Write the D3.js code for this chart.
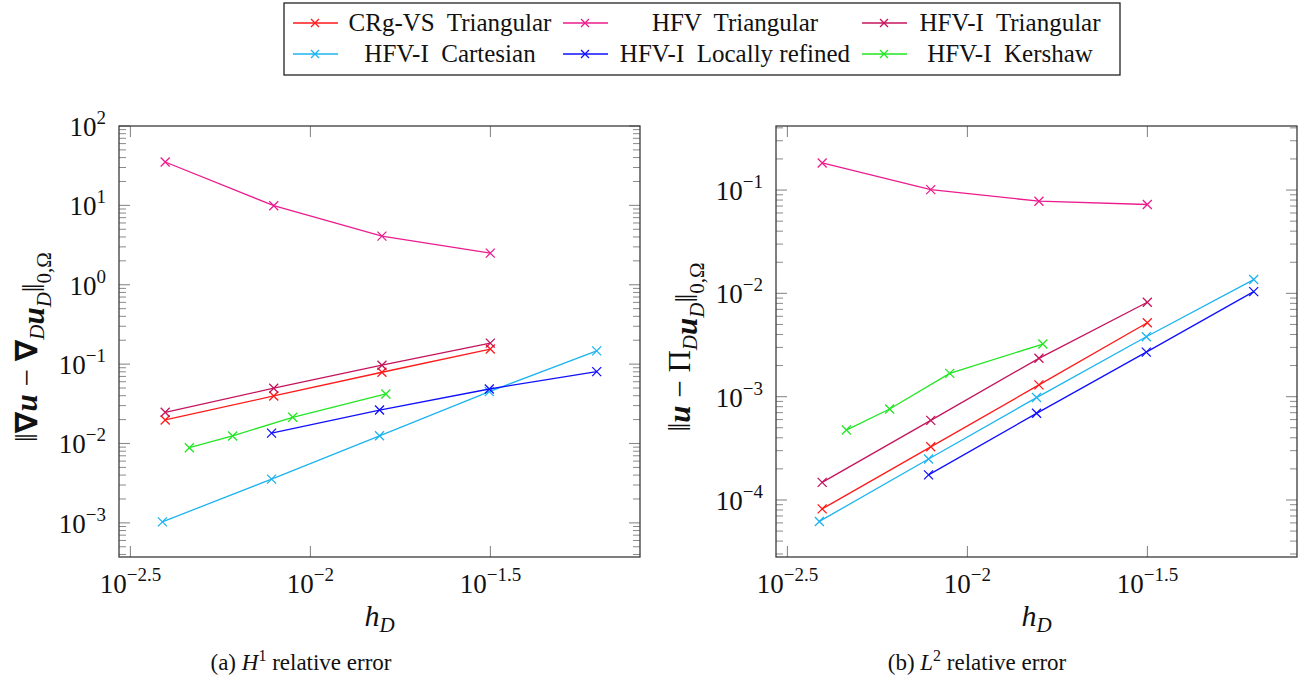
<!doctype html>
<html>
<head>
<meta charset="utf-8">
<script src="https://d3js.org/d3.v7.min.js"></script>
<style>
  body { margin: 0; background: #fff; }
  svg text { font-family: "Liberation Serif", "DejaVu Serif", serif; fill: #111; }
</style>
</head>
<body>
<svg width="1299" height="684" font-family="Liberation Serif, DejaVu Serif, serif"></svg>
<script>
// mesh sizes
var hTri  = [0.00395, 0.00791, 0.0158, 0.0316];
var hCart = [0.00388, 0.0078, 0.01556, 0.0314, 0.0624];
var hLoc  = [0.0078, 0.01556, 0.0314, 0.0624];
var hKer  = [0.00461, 0.00608, 0.00893, 0.0162];

// H1 relative errors
var crgH1     = [0.0198, 0.0397, 0.079, 0.155];
var hfvH1     = [35.2, 9.9, 4.1, 2.5];
var hfviTriH1 = [0.0247, 0.0497, 0.097, 0.184];
var cartH1    = [0.00103, 0.00356, 0.0125, 0.045, 0.147];
var locH1     = [0.0135, 0.0264, 0.0486, 0.0805];
var kerH1     = [0.00885, 0.01245, 0.0214, 0.0421];

// L2 relative errors
var crgL2     = [8.2e-5, 3.27e-4, 1.3e-3, 5.2e-3];
var hfvL2     = [0.183, 0.101, 0.078, 0.0725];
var hfviTriL2 = [1.48e-4, 5.9e-4, 2.35e-3, 8.2e-3];
var cartL2    = [6.2e-5, 2.49e-4, 9.8e-4, 3.8e-3, 0.0136];
var locL2     = [1.75e-4, 6.9e-4, 2.7e-3, 0.0104];
var kerL2     = [4.75e-4, 7.6e-4, 1.68e-3, 3.23e-3];

var names = ["CRg-VS  Triangular", "HFV  Triangular", "HFV-I  Triangular",
             "HFV-I  Cartesian", "HFV-I  Locally refined", "HFV-I  Kershaw"];
var colors = ["#ff1a1a", "#ec1c8e", "#c4145c", "#1cb4f0", "#1010ff", "#22e622"];

var xTickExp = [-2.5, -2, -1.5];
var xTickLabels = ["\u22122.5", "\u22122", "\u22121.5"];
var yTickExpA = [-3, -2, -1, 0, 1, 2];
var yTickLabelsA = ["\u22123", "\u22122", "\u22121", "0", "1", "2"];
var yTickExpB = [-4, -3, -2, -1];
var yTickLabelsB = ["\u22124", "\u22123", "\u22122", "\u22121"];

var SERIF = "'Liberation Serif', 'DejaVu Serif', serif";
var svg = d3.select("svg");

function txt(sel) {
  return sel.append("text").style("font-family", SERIF).attr("fill", "#111");
}

function panel(opt) {
  var x = d3.scaleLog().domain([Math.pow(10, -2.5317), Math.pow(10, -1.0845)]).range([opt.left, opt.right]);
  var y = d3.scaleLog().domain(opt.ydom).range([557, 126]);
  var g = svg.append("g");

  // minor y ticks (both sides)
  var minors = [];
  for (var e = Math.floor(Math.log10(opt.ydom[0])); e <= Math.ceil(Math.log10(opt.ydom[1])); e++) {
    for (var m = 2; m <= 9; m++) {
      var v = m * Math.pow(10, e);
      if (v > opt.ydom[0] && v < opt.ydom[1]) minors.push(v);
    }
  }
  minors.forEach(function(v) {
    g.append("line").attr("x1", opt.left).attr("x2", opt.left + 7).attr("y1", y(v)).attr("y2", y(v))
      .attr("stroke", "#8a8a8a").attr("stroke-width", 1);
    g.append("line").attr("x1", opt.right).attr("x2", opt.right - 7).attr("y1", y(v)).attr("y2", y(v))
      .attr("stroke", "#8a8a8a").attr("stroke-width", 1);
  });
  // major y ticks
  opt.yExp.forEach(function(ex, i) {
    var yy = y(Math.pow(10, ex));
    g.append("line").attr("x1", opt.left).attr("x2", opt.left + 11).attr("y1", yy).attr("y2", yy)
      .attr("stroke", "#8a8a8a").attr("stroke-width", 1.1);
    g.append("line").attr("x1", opt.right).attr("x2", opt.right - 11).attr("y1", yy).attr("y2", yy)
      .attr("stroke", "#8a8a8a").attr("stroke-width", 1.1);
    var t = txt(g).attr("x", opt.left - 13).attr("y", yy + 10).attr("text-anchor", "end")
      .style("font-size", "27px");
    t.append("tspan").text("10");
    t.append("tspan").attr("dy", -12).style("font-size", "19px").text(opt.yLab[i]);
  });
  // major x ticks (bottom and top)
  xTickExp.forEach(function(ex, i) {
    var xx = x(Math.pow(10, ex));
    g.append("line").attr("x1", xx).attr("x2", xx).attr("y1", 557).attr("y2", 546)
      .attr("stroke", "#8a8a8a").attr("stroke-width", 1.1);
    g.append("line").attr("x1", xx).attr("x2", xx).attr("y1", 126).attr("y2", 137)
      .attr("stroke", "#8a8a8a").attr("stroke-width", 1.1);
    var t = txt(g).attr("x", xx).attr("y", 593).attr("text-anchor", "middle")
      .style("font-size", "27px");
    t.append("tspan").text("10");
    t.append("tspan").attr("dy", -12).style("font-size", "19px").text(xTickLabels[i]);
  });

  // frame
  g.append("rect").attr("x", opt.left).attr("y", 126).attr("width", opt.right - opt.left).attr("height", 431)
    .attr("fill", "none").attr("stroke", "#3a3a3a").attr("stroke-width", 1.3);

  var line = d3.line().x(function(d) { return x(d[0]); }).y(function(d) { return y(d[1]); });
  opt.series.forEach(function(s) {
    var pts = s.h.map(function(h, i) { return [h, s.v[i]]; });
    g.append("path").datum(pts).attr("d", line).attr("fill", "none")
      .attr("stroke", s.c).attr("stroke-width", 1.3);
    pts.forEach(function(p) {
      var px = x(p[0]), py = y(p[1]), r = 4.5;
      g.append("path").attr("d", "M" + (px - r) + "," + (py - r) + "L" + (px + r) + "," + (py + r) +
        "M" + (px - r) + "," + (py + r) + "L" + (px + r) + "," + (py - r))
        .attr("stroke", s.c).attr("stroke-width", 1.3).attr("fill", "none");
    });
  });

  // x label
  var xl = txt(g).attr("x", (opt.left + opt.right) / 2).attr("y", 626).attr("text-anchor", "middle")
    .style("font-size", "30px").style("font-style", "italic");
  xl.append("tspan").text("h");
  xl.append("tspan").attr("dy", 6).style("font-size", "21px").text("D");

  // y label
  var yl = txt(g).attr("transform", "translate(" + opt.ylx + ",347) rotate(-90)")
    .attr("text-anchor", "middle").style("font-size", "31px");
  opt.ylabel(yl);

  // caption
  var cap = txt(svg).attr("x", opt.capx).attr("y", 670).attr("text-anchor", "middle")
    .style("font-size", "23px");
  cap.append("tspan").text("(" + opt.tag + ") ");
  cap.append("tspan").style("font-style", "italic").text(opt.capVar);
  cap.append("tspan").attr("dy", -9).style("font-size", "16px").text(opt.capExp);
  cap.append("tspan").attr("dy", 9).text(" relative error");
}

function sub(t, s) {
  t.append("tspan").attr("dy", 7).style("font-size", "21px").style("font-style", "italic").text(s);
}
function bu(t) {
  t.append("tspan").style("font-weight", "bold").style("font-style", "italic").text("u");
}
function nabla(t) {
  t.append("tspan").style("font-family", "'DejaVu Sans', sans-serif").style("font-weight", "bold").text("\u2207");
}

panel({
  left: 119, right: 640, ydom: [Math.pow(10, -3.43), 100],
  yExp: yTickExpA, yLab: yTickLabelsA, ylx: 37, capx: 301, tag: "a", capVar: "H", capExp: "1",
  series: [
    { h: hTri, v: crgH1, c: colors[0] },
    { h: hTri, v: hfvH1, c: colors[1] },
    { h: hTri, v: hfviTriH1, c: colors[2] },
    { h: hCart, v: cartH1, c: colors[3] },
    { h: hLoc, v: locH1, c: colors[4] },
    { h: hKer, v: kerH1, c: colors[5] }
  ],
  ylabel: function(t) {
    t.append("tspan").text("\u2016");
    nabla(t); bu(t);
    t.append("tspan").text(" \u2212 ");
    nabla(t); sub(t, "D");
    t.append("tspan").attr("dy", -7).text("");
    bu(t); sub(t, "D");
    t.append("tspan").attr("dy", -7).text("\u2016");
    t.append("tspan").attr("dy", 7).style("font-size", "21px").text("0,\u03a9");
  }
});

panel({
  left: 776, right: 1297, ydom: [Math.pow(10, -4.552), Math.pow(10, -0.38)],
  yExp: yTickExpB, yLab: yTickLabelsB, ylx: 690, capx: 977, tag: "b", capVar: "L", capExp: "2",
  series: [
    { h: hTri, v: crgL2, c: colors[0] },
    { h: hTri, v: hfvL2, c: colors[1] },
    { h: hTri, v: hfviTriL2, c: colors[2] },
    { h: hCart, v: cartL2, c: colors[3] },
    { h: hLoc, v: locL2, c: colors[4] },
    { h: hKer, v: kerL2, c: colors[5] }
  ],
  ylabel: function(t) {
    t.append("tspan").text("\u2016");
    bu(t);
    t.append("tspan").text(" \u2212 \u03a0");
    sub(t, "D");
    t.append("tspan").attr("dy", -7).text("");
    bu(t); sub(t, "D");
    t.append("tspan").attr("dy", -7).text("\u2016");
    t.append("tspan").attr("dy", 7).style("font-size", "21px").text("0,\u03a9");
  }
});

// legend
var leg = svg.append("g");
leg.append("rect").attr("x", 284).attr("y", 3).attr("width", 836).attr("height", 72)
  .attr("fill", "#fff").attr("stroke", "#222").attr("stroke-width", 1.3);
var colX = [293, 563, 862], colC = [450, 735, 1010], rowY = [23, 54];
names.forEach(function(n, i) {
  var c = i % 3, r = Math.floor(i / 3);
  var x0 = colX[c], yy = rowY[r];
  leg.append("line").attr("x1", x0).attr("x2", x0 + 45).attr("y1", yy).attr("y2", yy)
    .attr("stroke", colors[i]).attr("stroke-width", 1.3);
  var mx = x0 + 22, rr = 4;
  leg.append("path").attr("d", "M" + (mx - rr) + "," + (yy - rr) + "L" + (mx + rr) + "," + (yy + rr) +
    "M" + (mx - rr) + "," + (yy + rr) + "L" + (mx + rr) + "," + (yy - rr))
    .attr("stroke", colors[i]).attr("stroke-width", 1.3);
  txt(leg).attr("x", colC[c]).attr("y", yy + 8).attr("text-anchor", "middle")
    .style("font-size", "25px").style("white-space", "pre").attr("xml:space", "preserve").text(n);
});
</script>
</body>
</html>
